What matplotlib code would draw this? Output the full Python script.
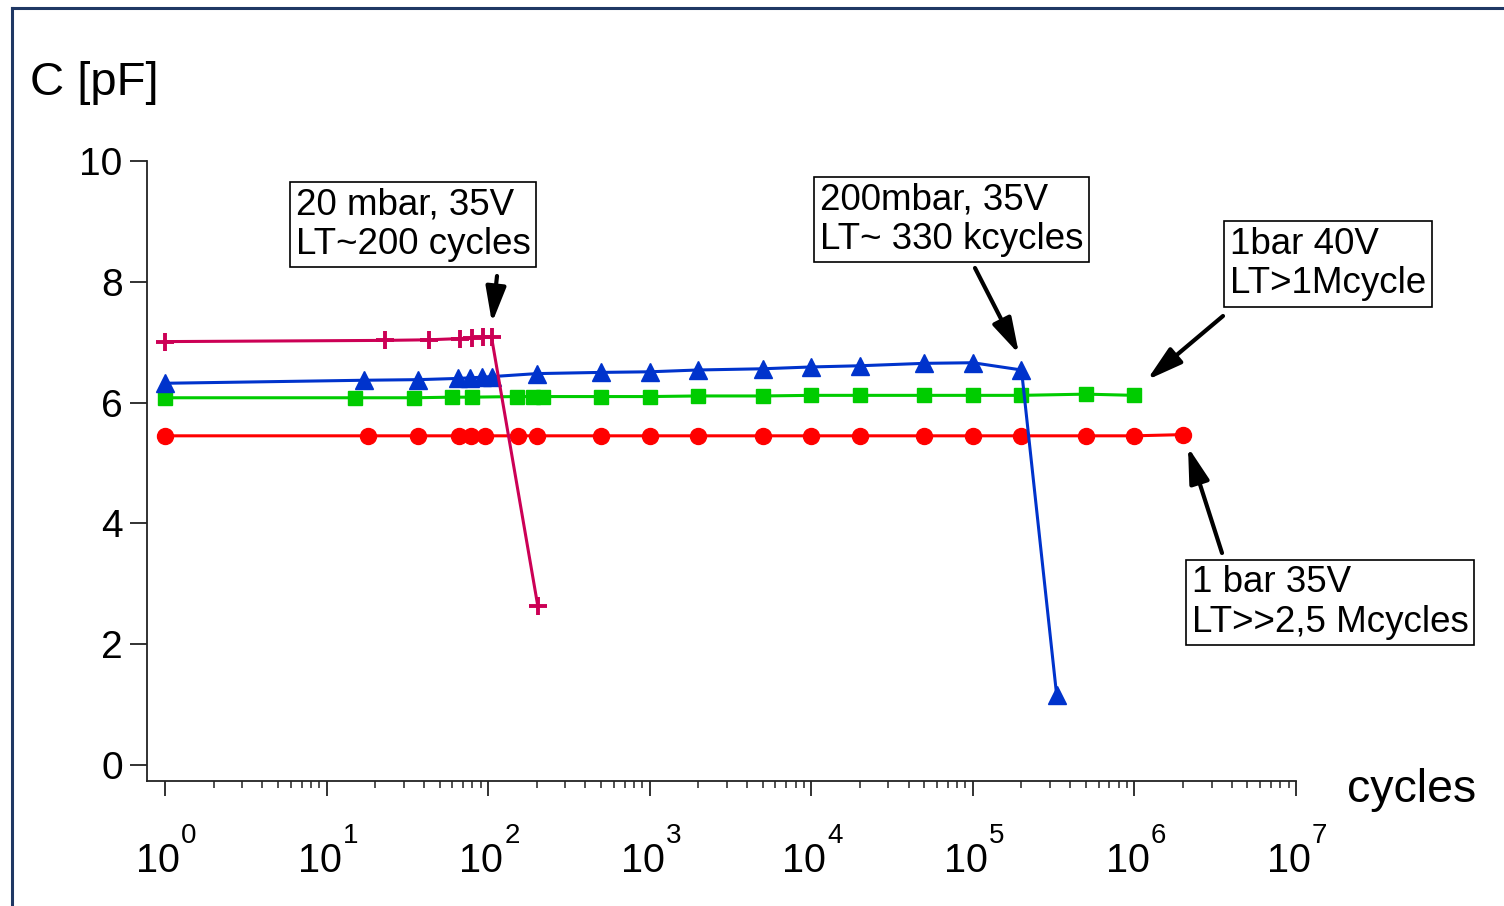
import matplotlib
matplotlib.use("Agg")
import matplotlib.pyplot as plt
from matplotlib.lines import Line2D
from matplotlib.patches import FancyArrowPatch
from matplotlib.ticker import FixedLocator, NullFormatter
from matplotlib.transforms import blended_transform_factory, offset_copy

plt.rcParams['font.family'] = ['Liberation Sans', 'DejaVu Sans']

# Capacitance vs. number of switching cycles
mag_x = [1, 23, 43, 67, 79, 93, 105, 203]
mag_y = [7.01, 7.03, 7.04, 7.06, 7.07, 7.08, 7.08, 2.63]

blue_x = [1, 17, 37, 65, 77, 91, 105, 200, 500, 1000, 2000, 5000, 1e4, 2e4,
          5e4, 1e5, 2e5, 3.3e5]
blue_y = [6.32, 6.37, 6.38, 6.40, 6.41, 6.42, 6.43, 6.48, 6.50, 6.51, 6.54,
          6.56, 6.59, 6.61, 6.65, 6.66, 6.54, 1.16]

green_x = [1, 15, 35, 60, 79, 150, 190, 220, 500, 1000, 2000, 5000, 1e4, 2e4,
           5e4, 1e5, 2e5, 5e5, 1e6]
green_y = [6.08, 6.08, 6.08, 6.09, 6.09, 6.10, 6.10, 6.10, 6.10, 6.10, 6.11,
           6.11, 6.12, 6.12, 6.12, 6.12, 6.12, 6.14, 6.12]

red_x = [1, 18, 37, 66, 78, 95, 153, 200, 500, 1000, 2000, 5000, 1e4, 2e4,
         5e4, 1e5, 2e5, 5e5, 1e6, 2e6]
red_y = [5.45] * 19 + [5.47]

y_ticks = [0, 2, 4, 6, 8, 10]
x_exponents = [0, 1, 2, 3, 4, 5, 6, 7]
x_ticks = [10.0 ** k for k in x_exponents]

notes = ["20 mbar, 35V\nLT~200 cycles",
         "200mbar, 35V\nLT~ 330 kcycles",
         "1bar 40V\nLT>1Mcycle",
         "1 bar 35V\nLT>>2,5 Mcycles"]

W, H = 1504, 906
fig = plt.figure(figsize=(W / 100, H / 100), dpi=100)
fig.patch.set_facecolor('white')


def fx(px):
    return px / W


def fy(py):
    return 1 - py / H


ax = fig.add_axes([fx(147), fy(781), fx(1296) - fx(147), fy(161) - fy(781)])
ax.set_xscale('log')
ax.set_xlim(10 ** -0.1114, 1e7)
ax.set_ylim(-0.265, 10.0)

ax.plot(red_x, red_y, color='#FF0000', lw=2.2, marker='o', ms=11.5,
        mec='#FF0000', zorder=3)
ax.plot(green_x, green_y, color='#00CC00', lw=2.2, marker='s', ms=10.5,
        mec='#00CC00', zorder=4)
ax.plot(blue_x, blue_y, color='#0033CC', lw=2.2, marker='^', ms=12.5,
        mec='#0033CC', zorder=5)
ax.plot(mag_x, mag_y, color='#CC0055', lw=2.2, marker='+', ms=12.5, mew=2.8,
        zorder=6)

for side in ('top', 'right'):
    ax.spines[side].set_visible(False)
for side in ('left', 'bottom'):
    ax.spines[side].set_linewidth(1.3)
    ax.spines[side].set_color('#222222')

ax.yaxis.set_major_locator(FixedLocator(y_ticks))
ax.set_yticklabels([str(v) for v in y_ticks])
ax.tick_params(axis='y', which='major', direction='out', length=12.5,
               width=1.3, pad=5, labelsize=28, color='#222222')

minor_x = [m * 10 ** k for k in range(7) for m in range(2, 10)]
ax.xaxis.set_major_locator(FixedLocator(x_ticks))
ax.xaxis.set_major_formatter(NullFormatter())
ax.xaxis.set_minor_locator(FixedLocator(minor_x))
ax.xaxis.set_minor_formatter(NullFormatter())
ax.tick_params(axis='x', which='major', direction='out', length=11,
               width=1.3, color='#222222')
ax.tick_params(axis='x', which='minor', direction='out', length=5,
               width=1.1, color='#222222')

# Power-of-ten labels with raised exponents
base = blended_transform_factory(ax.transData, fig.transFigure)
mant_tr = offset_copy(base, fig=fig, x=15, y=0, units='dots')
exp_tr = offset_copy(base, fig=fig, x=16, y=0, units='dots')
for k, xt in zip(x_exponents, x_ticks):
    ax.text(xt, fy(872), '10', transform=mant_tr, ha='right', va='baseline',
            fontsize=28.5, clip_on=False)
    ax.text(xt, fy(843), str(k), transform=exp_tr, ha='left', va='baseline',
            fontsize=20, clip_on=False)

fig.text(fx(30), fy(83), 'C [pF]', fontsize=34, ha='left', va='center')
fig.text(fx(1347), fy(790), 'cycles', fontsize=33.5, ha='left', va='center')

# Text boxes with arrows pointing to the end of each lifetime curve
box_pos = [(296, 224.5), (820, 219.5), (1230, 264), (1192, 602.5)]
for txt, (px, py) in zip(notes, box_pos):
    fig.text(fx(px), fy(py), txt, fontsize=26.5, ha='left', va='center',
             linespacing=1.16,
             bbox=dict(boxstyle='square,pad=0.15', fc='white', ec='black',
                       lw=1.2))

arrows = [((497, 276), (492, 323)),
          ((975, 268), (1019, 354)),
          ((1223, 316), (1147, 380)),
          ((1222, 553), (1188, 447))]
for (tx, ty), (hx, hy) in arrows:
    fig.add_artist(FancyArrowPatch(
        (fx(tx), fy(ty)), (fx(hx), fy(hy)), transform=fig.transFigure,
        arrowstyle='-|>,head_length=0.6,head_width=0.17', mutation_scale=36,
        lw=3, color='black', shrinkA=0, shrinkB=0, zorder=10))

# Outer frame (top and left edges)
frame_c = '#1F3864'
fig.add_artist(Line2D([fx(12), 1], [fy(8), fy(8)], transform=fig.transFigure,
                      color=frame_c, lw=2.2))
fig.add_artist(Line2D([fx(12), fx(12)], [fy(8), 0], transform=fig.transFigure,
                      color=frame_c, lw=2.2))

fig.savefig('out.png', dpi=100, facecolor='white')
